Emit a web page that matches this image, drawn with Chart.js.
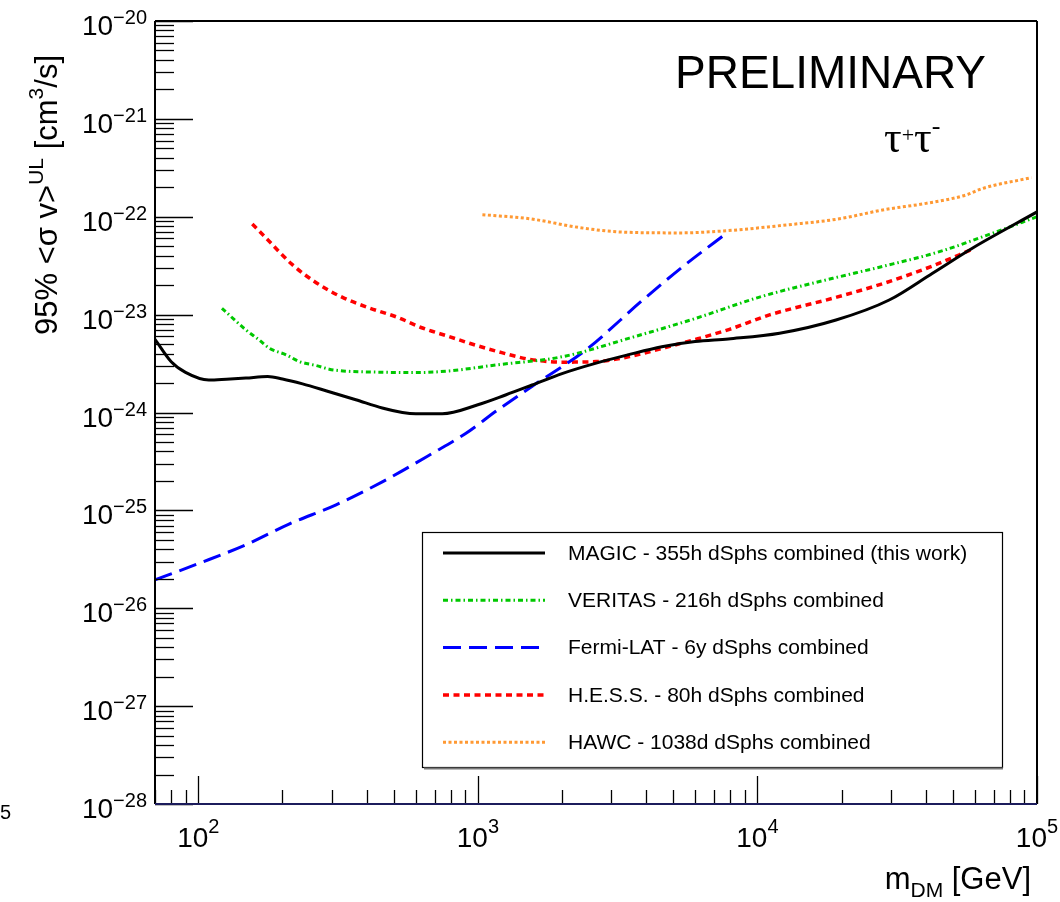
<!DOCTYPE html>
<html>
<head>
<meta charset="utf-8">
<script src="https://cdn.jsdelivr.net/npm/chart.js@4.4.0/dist/chart.umd.min.js"></script>
<style>
  html, body { margin: 0; padding: 0; background: #fff; }
  #wrap { width: 1060px; height: 902px; position: relative; }
</style>
</head>
<body>
<div id="wrap"><canvas id="limits"></canvas></div>
<script>
// DM mass [GeV] vs 95% UL on <sigma v> [cm^3/s], tau+ tau- channel
const magicMass = [70, 80, 90, 109, 126, 148, 177, 200, 236, 286, 366, 455, 537, 600, 746, 1000, 1256, 1563, 2000, 2631, 3460, 4550, 5985, 7870, 12000, 19100, 29600, 42300, 58900, 100000];
const magicSv = [5.6e-24, 3.3e-24, 2.57e-24, 2.15e-24, 2.19e-24, 2.25e-24, 2.33e-24, 2.2e-24, 1.96e-24, 1.67e-24, 1.35e-24, 1.11e-24, 1.0e-24, 0.97e-24, 0.97e-24, 1.2e-24, 1.51e-24, 1.91e-24, 2.5e-24, 3.18e-24, 3.9e-24, 4.7e-24, 5.3e-24, 5.65e-24, 6.45e-24, 8.8e-24, 1.41e-23, 2.65e-23, 4.8e-23, 1.12e-22];

const veritasMass = [121.5, 148, 165, 179.5, 206, 230, 264, 294, 329, 398, 601, 791, 1161, 2010, 3484, 6040, 10170, 18600, 27300, 44800, 69500, 100000];
const veritasSv = [1.16e-23, 6.98e-24, 5.52e-24, 4.54e-24, 3.89e-24, 3.31e-24, 3.02e-24, 2.77e-24, 2.66e-24, 2.6e-24, 2.56e-24, 2.66e-24, 3.06e-24, 3.72e-24, 5.75e-24, 9.2e-24, 1.51e-23, 2.35e-23, 3.05e-23, 4.4e-23, 6.8e-23, 1.0e-22];

const fermiMass = [70, 100.8, 148, 212, 311, 457, 689, 907, 1177, 1570, 2438, 3890, 5520, 7870];
const fermiSv = [1.95e-26, 2.88e-26, 4.45e-26, 7.28e-26, 1.14e-25, 1.97e-25, 3.84e-25, 6.14e-25, 1.06e-24, 1.87e-24, 4.37e-24, 1.41e-23, 3.24e-23, 7.0e-23];

const hessMass = [156, 175, 217, 264, 328, 409, 510, 634, 790, 933, 1161, 1528, 2010, 2648, 3484, 4581, 6040, 7946, 11040, 19100, 28800, 42300, 59000];
const hessSv = [8.43e-23, 6.03e-23, 3.24e-23, 2.12e-23, 1.5e-23, 1.17e-23, 9.5e-24, 7.3e-24, 5.96e-24, 5.1e-24, 4.24e-24, 3.5e-24, 3.27e-24, 3.31e-24, 3.72e-24, 4.54e-24, 5.61e-24, 7.08e-24, 9.93e-24, 1.5e-23, 2.12e-23, 3.14e-23, 4.69e-23];

const hawcMass = [1038, 1528, 2306, 3206, 5260, 7830, 12680, 19130, 28860, 40100, 55800, 64000, 95500];
const hawcSv = [1.05e-22, 9.55e-23, 7.76e-23, 7.0e-23, 6.84e-23, 7.21e-23, 8.24e-23, 9.42e-23, 1.19e-22, 1.37e-22, 1.67e-22, 1.95e-22, 2.51e-22];

const seriesLabels = [
  'MAGIC - 355h dSphs combined (this work)',
  'VERITAS - 216h dSphs combined',
  'Fermi-LAT - 6y dSphs combined',
  'H.E.S.S. - 80h dSphs combined',
  'HAWC - 1038d dSphs combined'
];

const xDecades = [2, 3, 4, 5];
const yDecades = [-28, -27, -26, -25, -24, -23, -22, -21, -20];
const xMin = 70, xMax = 1e5, yMin = 1e-28, yMax = 1e-20;

const SANS = '"Liberation Sans", Arial, Helvetica, sans-serif';
const SERIF = '"Liberation Serif", "Times New Roman", serif';

function pts(mass, sv) {
  return mass.map((m, i) => ({ x: m, y: sv[i] }));
}

// draws a run of [text, size, dy] pieces starting at x, returns end x
function drawRun(ctx, pieces, x, y, font) {
  ctx.textAlign = 'left';
  ctx.textBaseline = 'alphabetic';
  for (const [t, size, dy] of pieces) {
    ctx.font = size + 'px ' + (font || SANS);
    ctx.fillText(t, x, y + dy);
    x += ctx.measureText(t).width;
  }
  return x;
}

function runWidth(ctx, pieces, font) {
  let w = 0;
  for (const [t, size] of pieces) {
    ctx.font = size + 'px ' + (font || SANS);
    w += ctx.measureText(t).width;
  }
  return w;
}

function seg(ctx, x1, y1, x2, y2) {
  ctx.beginPath();
  ctx.moveTo(x1, y1);
  ctx.lineTo(x2, y2);
  ctx.stroke();
}

const rootFrame = {
  id: 'rootFrame',
  afterDatasetsDraw(chart) {
    const ctx = chart.ctx;
    const xs = chart.scales.x, ys = chart.scales.y;
    const { left, right, top, bottom } = chart.chartArea;
    ctx.save();
    ctx.fillStyle = '#000';
    ctx.strokeStyle = '#000';

    // y ticks (inside, minor 2..9)
    ctx.lineWidth = 1.3;
    for (let p = -28; p <= -20; p++) {
      for (let k = 1; k <= 9; k++) {
        const v = k * Math.pow(10, p);
        if (v > yMax * 1.0001) break;
        const py = Math.round(ys.getPixelForValue(v)) + 0.5;
        seg(ctx, left, py, left + (k === 1 ? 38 : 19), py);
      }
    }
    // x ticks
    for (let p = 1; p <= 5; p++) {
      for (let k = 1; k <= 9; k++) {
        const v = k * Math.pow(10, p);
        if (v < xMin || v > xMax * 1.0001) continue;
        const px = Math.round(xs.getPixelForValue(v)) + 0.5;
        seg(ctx, px, bottom, px, bottom - (k === 1 ? 28 : 14));
      }
    }

    // frame
    ctx.lineWidth = 2;
    seg(ctx, left, top, right, top);
    seg(ctx, right, top, right, bottom);
    seg(ctx, left, top, left, bottom);
    ctx.strokeStyle = '#1c1c5c';
    seg(ctx, left, bottom, right, bottom);

    // y tick labels 10^-n
    for (const p of yDecades) {
      const py = ys.getPixelForValue(Math.pow(10, p));
      const pieces = [['10', 28, 14], ['\u2212' + (-p), 20, 3]];
      const w = runWidth(ctx, pieces);
      drawRun(ctx, pieces, 147 - w, py);
    }
    // x tick labels 10^n
    for (const p of xDecades) {
      const px = xs.getPixelForValue(Math.pow(10, p));
      const pieces = [['10', 28, 0], [String(p), 20, -14]];
      const w = runWidth(ctx, pieces);
      drawRun(ctx, pieces, px - w / 2, 847);
    }

    // x title
    const xt = [['m', 31, 0], ['DM', 21, 8], [' [GeV]', 31, 0]];
    drawRun(ctx, xt, 1031 - runWidth(ctx, xt), 889);

    // y title, rotated, ending at the top of the axis
    const yt = [['95% <\u03c3 v>', 31, 0], ['UL', 21, -14], [' [cm', 31, 0], ['3', 21, -14], ['/s]', 31, 0]];
    ctx.save();
    ctx.translate(57, 55);
    ctx.rotate(-Math.PI / 2);
    drawRun(ctx, yt, -runWidth(ctx, yt), 0);
    ctx.restore();

    // labels inside the frame
    drawRun(ctx, [['PRELIMINARY', 46, 0]], 675, 88);
    drawRun(ctx, [['\u03c4', 44, 0], ['+', 22, -10], ['\u03c4', 44, 0], ['-', 26, -18]], 884, 152, SERIF);

    // clipped exponent from the neighbouring panel
    drawRun(ctx, [['5', 20, 0]], 0, 819);

    // legend box
    const lx = 422, ly = 532, lw = 580, lh = 235;
    ctx.fillStyle = '#fff';
    ctx.fillRect(lx, ly, lw, lh);
    ctx.strokeStyle = '#000';
    ctx.lineWidth = 1.2;
    ctx.strokeRect(lx + 0.5, ly + 0.5, lw, lh);
    ctx.strokeStyle = '#777';
    ctx.lineWidth = 2;
    seg(ctx, lx + 2, ly + lh + 1.5, lx + lw + 1, ly + lh + 1.5);
    ctx.fillStyle = '#000';
    chart.data.datasets.forEach((ds, i) => {
      const ry = ly + 21 + i * 47.3;
      ctx.save();
      ctx.strokeStyle = ds.borderColor;
      ctx.lineWidth = ds.borderWidth;
      ctx.setLineDash(ds.borderDash || []);
      seg(ctx, 443, ry, 545, ry);
      ctx.restore();
      ctx.font = '21px ' + SANS;
      ctx.textBaseline = 'middle';
      ctx.fillText(ds.label, 568, ry + 1);
    });
    ctx.restore();
  }
};

const lineBase = { fill: false, pointRadius: 0, cubicInterpolationMode: 'monotone', borderCapStyle: 'butt' };

new Chart(document.getElementById('limits'), {
  type: 'line',
  data: {
    datasets: [
      { ...lineBase, label: seriesLabels[0], data: pts(magicMass, magicSv), borderColor: '#000000', borderWidth: 3 },
      { ...lineBase, label: seriesLabels[1], data: pts(veritasMass, veritasSv), borderColor: '#00c800', borderWidth: 3, borderDash: [5, 3, 1.5, 3] },
      { ...lineBase, label: seriesLabels[2], data: pts(fermiMass, fermiSv), borderColor: '#0000ff', borderWidth: 3, borderDash: [18, 8] },
      { ...lineBase, label: seriesLabels[3], data: pts(hessMass, hessSv), borderColor: '#ff0000', borderWidth: 3.5, borderDash: [6, 4.5] },
      { ...lineBase, label: seriesLabels[4], data: pts(hawcMass, hawcSv), borderColor: '#ff9933', borderWidth: 3, borderDash: [3, 2.5] }
    ]
  },
  options: {
    responsive: true,
    maintainAspectRatio: false,
    animation: false,
    layout: { padding: { left: 155, top: 21, right: 23, bottom: 98 } },
    plugins: { legend: { display: false }, tooltip: { enabled: false } },
    scales: {
      x: { type: 'logarithmic', min: xMin, max: xMax, display: false },
      y: { type: 'logarithmic', min: yMin, max: yMax, display: false }
    }
  },
  plugins: [rootFrame]
});
</script>
</body>
</html>
